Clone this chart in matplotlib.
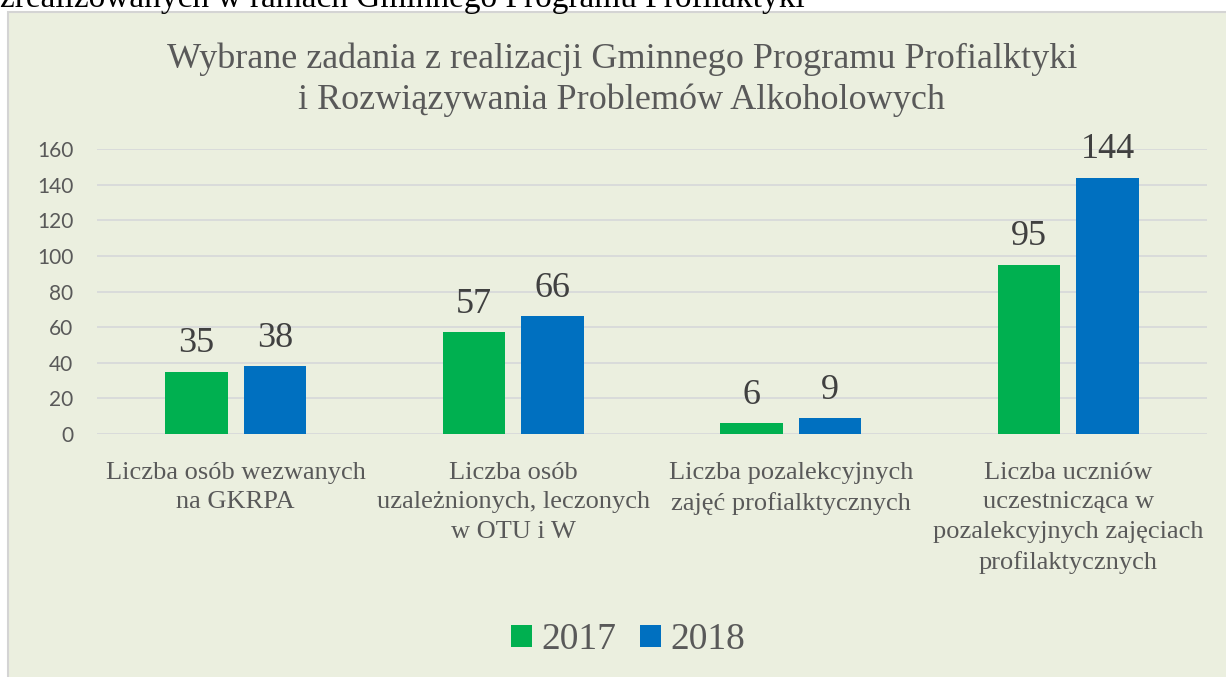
import numpy as np
import matplotlib
matplotlib.use('Agg')
import matplotlib.pyplot as plt
from matplotlib.patches import Rectangle

categories = ['Liczba osób wezwanych\nna GKRPA',
              'Liczba osób\nuzależnionych, leczonych\nw OTU i W',
              'Liczba pozalekcyjnych\nzajęć profialktycznych',
              'Liczba uczniów\nuczestnicząca w\npozalekcyjnych zajęciach\nprofilaktycznych']
years = ['2017', '2018']
vals_2017 = [35, 57, 6, 95]
vals_2018 = [38, 66, 9, 144]
yticks = [0, 20, 40, 60, 80, 100, 120, 140, 160]

bg = '#EBEFDF'
green = '#00B050'
blue = '#0070C0'
grey = '#595959'
serif = 'Liberation Serif'

W, H = 1226, 677
fig = plt.figure(figsize=(W / 100, H / 100), dpi=100)
fig.patch.set_facecolor('white')

# panel of the embedded chart
fig.patches.append(Rectangle((8 / W, -0.01), 1, (H - 12) / H + 0.01, transform=fig.transFigure,
                             facecolor=bg, edgecolor='#D4D4D4', linewidth=1.5, zorder=-1))

# cut-off text of the document above the chart
fig.text(0.0, 1 - 7 / H, 'zrealizowanych w ramach Gminnego Programu Profilaktyki',
         family=serif, fontsize=24, color='black', va='baseline', ha='left')

ax = fig.add_axes([97 / W, (H - 434) / H, 1110 / W, 285 / H])
ax.set_facecolor('none')
ax.set_zorder(2)

x = np.arange(len(categories))
w = 0.225
off = 0.142
b1 = ax.bar(x - off, vals_2017, w, color=green, label=years[0], zorder=3)
b2 = ax.bar(x + off, vals_2018, w, color=blue, label=years[1], zorder=3)

for bars, vals in ((b1, vals_2017), (b2, vals_2018)):
    for rect, v in zip(bars, vals):
        ax.annotate(str(v), (rect.get_x() + rect.get_width() / 2, v),
                    xytext=(0, 14), textcoords='offset points',
                    ha='center', va='baseline', family=serif, fontsize=26, color='#404040')

ax.set_xlim(-0.5, 3.5)
ax.set_ylim(0, 160)
ax.set_yticks(yticks)
ax.set_yticklabels([str(t) for t in yticks], family='Lato', fontsize=15, color=grey)
ax.tick_params(axis='y', length=0, pad=17)
ax.set_xticks(x)
ax.set_xticklabels(categories, family=serif, fontsize=19, color=grey, linespacing=1.45)
ax.tick_params(axis='x', length=0, pad=20)
ax.grid(axis='y', color='#D6D8DA', linewidth=1.2, zorder=0)
for s in ax.spines.values():
    s.set_visible(False)

fig.text(622 / W, 1 - 42 / H,
         'Wybrane zadania z realizacji Gminnego Programu Profialktyki\ni Rozwiązywania Problemów Alkoholowych',
         family=serif, fontsize=26, color=grey, ha='center', va='top', linespacing=1.3)

fig.legend(handles=[b1, b2], labels=years, loc='center', bbox_to_anchor=(628 / W, 1 - 640 / H),
           ncol=2, frameon=False, prop={'family': serif, 'size': 27},
           handlelength=0.55, handleheight=0.55, handletextpad=0.25, columnspacing=0.65,
           labelcolor=grey)

fig.savefig('out.png', dpi=100, facecolor=fig.get_facecolor())
